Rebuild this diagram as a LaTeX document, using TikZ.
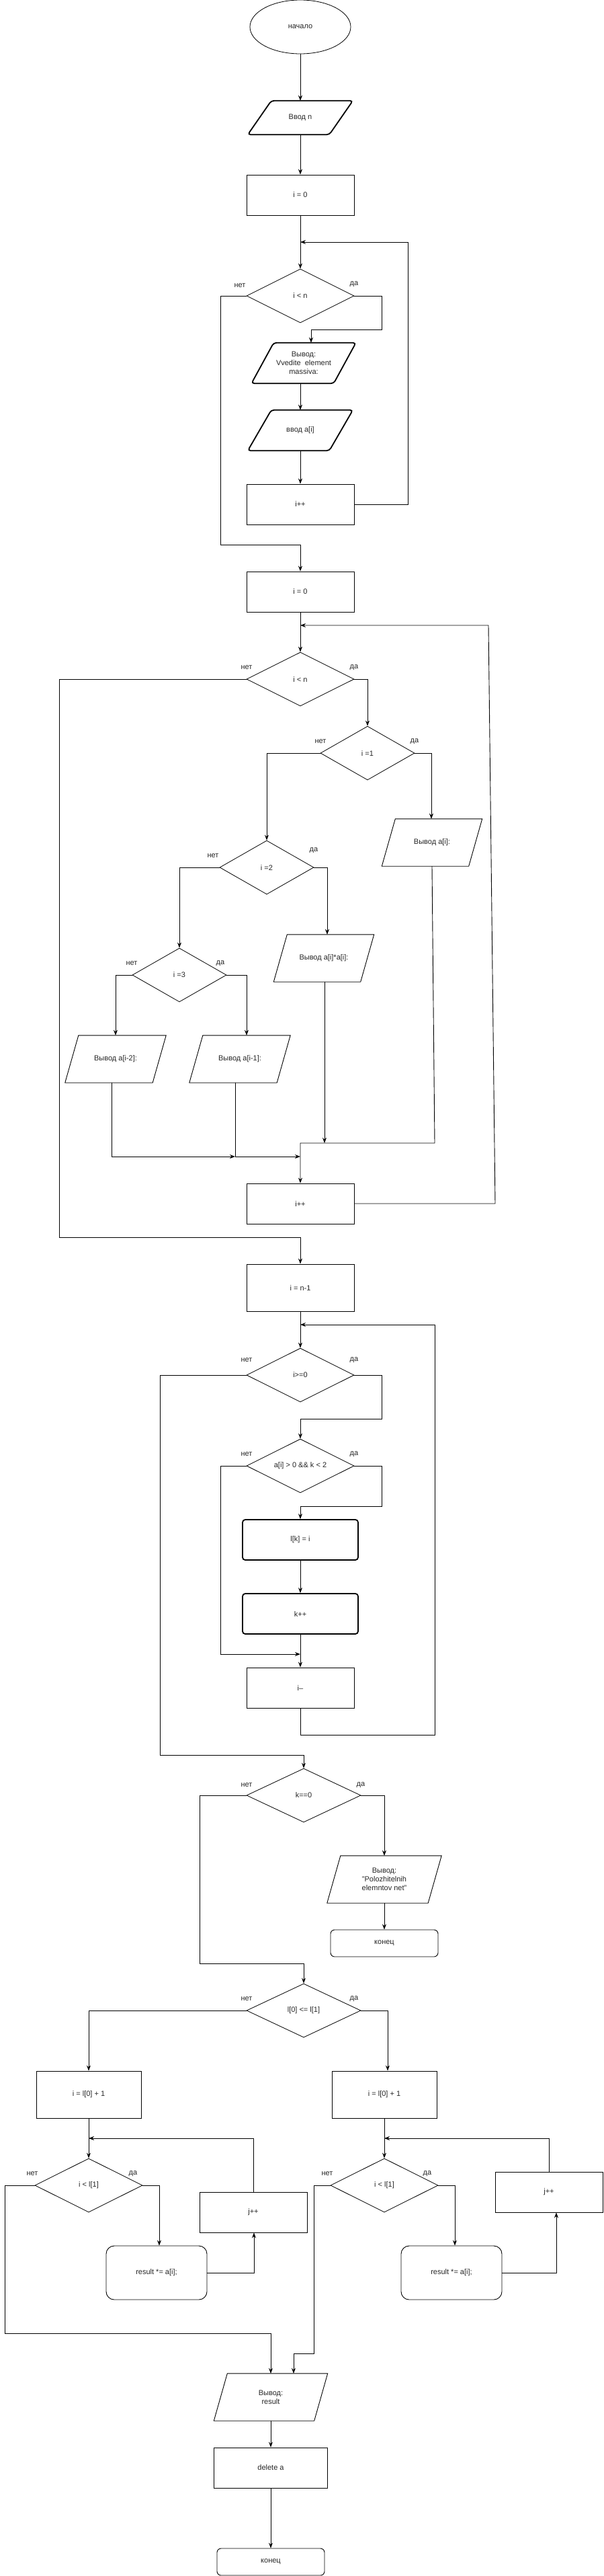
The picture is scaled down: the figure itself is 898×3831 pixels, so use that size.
\documentclass[tikz,border=0pt]{standalone}
\usepackage{fontspec}
\setmainfont{Liberation Sans}
\usetikzlibrary{shapes.geometric,arrows.meta}
\newcommand\drawpara[3][]{\draw[line width=0.9pt,#1] ([xshift=#3]#2.north west) -- (#2.north east) -- ([xshift=-#3]#2.south east) -- (#2.south west) -- cycle;}
\begin{document}
\begin{tikzpicture}[x=1pt,y=-1pt,
  every node/.style={font=\fontsize{11}{13}\selectfont, inner sep=0pt, align=center, text=black!85},
  box/.style={draw, rectangle, line width=0.9pt, minimum width=160pt, minimum height=60pt},
  dia/.style={draw, diamond, shape aspect=2, line width=0.8pt, minimum width=160pt, minimum height=80pt},
  pbox/.style={rectangle, minimum width=150pt, minimum height=70pt},
  tbox/.style={draw, rectangle, rounded corners=4pt, line width=1.8pt, minimum width=172pt, minimum height=60pt},
  rbox/.style={draw, rectangle, rounded corners=12pt, line width=0.9pt, minimum width=150pt, minimum height=80pt},
  endbox/.style={draw, rectangle, rounded corners=6pt, line width=0.9pt, minimum width=160pt, minimum height=40pt},
  lbl/.style={},
  arr/.style={-{Stealth[length=8pt,width=6pt]}, line width=0.9pt},
  ln/.style={line width=0.9pt}]
\useasboundingbox[fill=white] (0,0) rectangle (898,3831);

% ---- nodes ----
\node[draw, ellipse, line width=0.8pt, minimum width=150pt, minimum height=80pt] (start) at (447,40) {начало};
\node[pbox, minimum width=156pt, minimum height=50pt] (inN) at (447,175) {Ввод n};
\drawpara[line width=1.8pt, rounded corners=4pt]{inN}{35pt}
\node[box] (i0a) at (447,290) {i = 0};
\node[dia] (d1) at (447,440) {i < n};
\node[pbox, minimum width=155pt, minimum height=60pt] (outV) at (452,540) {Вывод:\\Vvedite\ \ element\\massiva:};
\drawpara[line width=1.8pt, rounded corners=4pt]{outV}{33pt}
\node[pbox, minimum width=156pt, minimum height=60pt] (inA) at (447,640) {ввод a[i]};
\drawpara[line width=1.8pt, rounded corners=4pt]{inA}{35pt}
\node[box] (inc1) at (447,750) {i++};
\node[box] (i0b) at (447,880) {i = 0};
\node[dia] (d2) at (447,1010) {i < n};
\node[dia, minimum width=140pt] (d3) at (547,1120) {i =1};
\node[pbox, minimum width=149pt] (o1) at (643,1253) {Вывод a[i]:};
\drawpara{o1}{20pt}
\node[dia, minimum width=140pt] (d4) at (397,1290) {i =2};
\node[pbox, minimum width=149pt] (o2) at (482,1425) {Вывод a[i]*a[i]:};
\drawpara{o2}{20pt}
\node[dia, minimum width=140pt] (d5) at (267,1450) {i =3};
\node[pbox] (o3) at (172,1575) {Вывод a[i-2]:};
\drawpara{o3}{20pt}
\node[pbox] (o4) at (357,1575) {Вывод a[i-1]:};
\drawpara{o4}{20pt}
\node[box] (inc2) at (447,1790) {i++};
\node[box, minimum height=70pt] (inl) at (447,1915) {i = n-1};
\node[dia] (d6) at (447,2045) {i>=0};
\node[dia] (d7) at (447,2180) {a[i] > 0 \&\& k < 2};
\node[tbox] (lk) at (447,2290) {l[k] = i};
\node[tbox] (kinc) at (447,2400) {k++};
\node[box] (dec) at (447,2510) {i--};
\node[dia, minimum width=170pt] (d8) at (452,2670) {k==0};
\node[pbox, minimum width=170pt] (o5) at (572,2795) {Вывод:\\"Polozhitelnih\\elemntov net"};
\drawpara{o5}{20pt}
\node[endbox] (end1) at (572,2890) {конец};
\node[dia, minimum width=170pt] (d9) at (452,2990) {l[0] <= l[1]};
\node[box, minimum width=156pt, minimum height=70pt] (bl) at (132,3115) {i = l[0] + 1};
\node[box, minimum width=156pt, minimum height=70pt] (br) at (572,3115) {i = l[0] + 1};
\node[dia] (dl) at (132,3250) {i < l[1]};
\node[dia] (dr) at (572,3250) {i < l[1]};
\node[rbox] (rl) at (233,3380) {result *= a[i];};
\node[rbox] (rr) at (672,3380) {result *= a[i];};
\node[box] (jl) at (377,3290) {j++};
\node[box] (jr) at (817,3260) {j++};
\node[pbox, minimum width=169pt] (oR) at (403,3565) {Вывод:\\result};
\drawpara{oR}{20pt}
\node[box, minimum width=169pt] (del) at (403,3670) {delete a};
\node[endbox] (end2) at (403,3810) {конец};

% ---- labels ----
\node[lbl] (l1n) at (357,425) {нет}; \node[lbl] (l1y) at (527,423) {да};
\node[lbl] (l2n) at (367,993) {нет}; \node[lbl] (l2y) at (527,993) {да};
\node[lbl] (l3n) at (477,1103) {нет}; \node[lbl] (l3y) at (617,1103) {да};
\node[lbl] (l4n) at (317,1273) {нет}; \node[lbl] (l4y) at (467,1265) {да};
\node[lbl] (l5n) at (196,1433) {нет}; \node[lbl] (l5y) at (328,1433) {да};
\node[lbl] (l6n) at (367,2023) {нет}; \node[lbl] (l6y) at (527,2023) {да};
\node[lbl] (l7n) at (367,2163) {нет}; \node[lbl] (l7y) at (527,2163) {да};
\node[lbl] (l8n) at (367,2655) {нет}; \node[lbl] (l8y) at (537,2655) {да};
\node[lbl] (l9n) at (367,2973) {нет}; \node[lbl] (l9y) at (527,2973) {да};
\node[lbl] (lln) at (48,3233) {нет}; \node[lbl] (lly) at (198,3233) {да};
\node[lbl] (lrn) at (487,3233) {нет}; \node[lbl] (lry) at (636,3233) {да};

% ---- merge coordinates ----
\coordinate (m1) at (447,360);
\coordinate (m2) at (447,930);
\coordinate (m3) at (483,1700);
\coordinate (m4) at (350,1720);
\coordinate (m5) at (447,1720);
\coordinate (m6) at (447,1970);
\coordinate (m7) at (447,2460);
\coordinate (m8) at (132,3180);
\coordinate (m9) at (572,3180);

% ---- connectors ----
\draw[arr] (start.south) -- (inN.north);
\draw[arr] (inN.south) -- (i0a.north);
\draw[arr] (i0a.south) -- (d1.north);
\draw[arr] (d1.east) -- (568,440) -- (568,490) -- (463,490) -- (463,0|-outV.north);
\draw[arr] (inA.north|-outV.south) -- (inA.north);
\draw[arr] (inA.south) -- (inc1.north);
\draw[arr] (inc1.east) -- (607,750) -- (607,360) -- (m1);
\draw[arr] (d1.west) -- (328,440) -- (328,810) -- (447,810) -- (i0b.north);
\draw[arr] (i0b.south) -- (d2.north);
\draw[arr] (inc2.east) -- (737,1790) -- (727,930) -- (m2);
\draw[arr] (d2.west) -- (88,1010) -- (88,1840) -- (447,1840) -- (inl.north);
\draw[arr] (d2.east) -- (547,1010) -- (d3.north);
\draw[arr] (d3.east) -- (642,1120) -- (642,0|-o1.north);
\draw[arr] (d3.west) -- (397,1120) -- (d4.north);
\draw[arr] (d4.east) -- (487,1290) -- (487,0|-o2.north);
\draw[arr] (d4.west) -- (267,1290) -- (d5.north);
\draw[arr] (d5.east) -- (367,1450) -- (367,0|-o4.north);
\draw[arr] (d5.west) -- (172,1450) -- (172,0|-o3.north);
\draw[arr] (483,0|-o2.south) -- (m3);
\draw[arr] (643,0|-o1.south) -- (647,1700) -- (447,1700) -- (inc2.north);
\draw[arr] (166,0|-o3.south) -- (166,1720) -- (m4);
\draw[arr] (350,0|-o4.south) -- (350,1720) -- (m5);
\draw[arr] (inl.south) -- (d6.north);
\draw[arr] (dec.south) -- (447,2580) -- (647,2580) -- (647,1970) -- (m6);
\draw[arr] (d6.east) -- (568,2045) -- (568,2110) -- (447,2110) -- (d7.north);
\draw[arr] (d6.west) -- (238,2045) -- (238,2610) -- (452,2610) -- (d8.north);
\draw[arr] (d7.east) -- (568,2180) -- (568,2240) -- (447,2240) -- (lk.north);
\draw[arr] (d7.west) -- (328,2180) -- (328,2460) -- (m7);
\draw[arr] (lk.south) -- (kinc.north);
\draw[arr] (kinc.south) -- (dec.north);
\draw[arr] (d8.east) -- (572,2670) -- (572,0|-o5.north);
\draw[arr] (572,0|-o5.south) -- (end1.north);
\draw[arr] (d8.west) -- (297,2670) -- (297,2920) -- (452,2920) -- (d9.north);
\draw[arr] (d9.west) -- (132,2990) -- (bl.north);
\draw[arr] (d9.east) -- (577,2990) -- (577,0|-br.north);
\draw[arr] (bl.south) -- (dl.north);
\draw[arr] (br.south) -- (dr.north);
\draw[arr] (jl.north) -- (377,3180) -- (m8);
\draw[arr] (jr.north) -- (817,3180) -- (m9);
\draw[arr] (dl.east) -- (237,3250) -- (237,0|-rl.north);
\draw[arr] (rl.east) -- (378,3380) -- (378,0|-jl.south);
\draw[arr] (dr.east) -- (677,3250) -- (677,0|-rr.north);
\draw[arr] (rr.east) -- (828,3380) -- (828,0|-jr.south);
\draw[arr] (dl.west) -- (7,3250) -- (7,3470) -- (403,3470) -- (403,0|-oR.north);
\draw[arr] (dr.west) -- (467,3250) -- (467,3500) -- (437,3500) -- (437,0|-oR.north);
\draw[arr] (del.north|-oR.south) -- (del.north);
\draw[arr] (del.south) -- (end2.north);
\end{tikzpicture}
\end{document}
